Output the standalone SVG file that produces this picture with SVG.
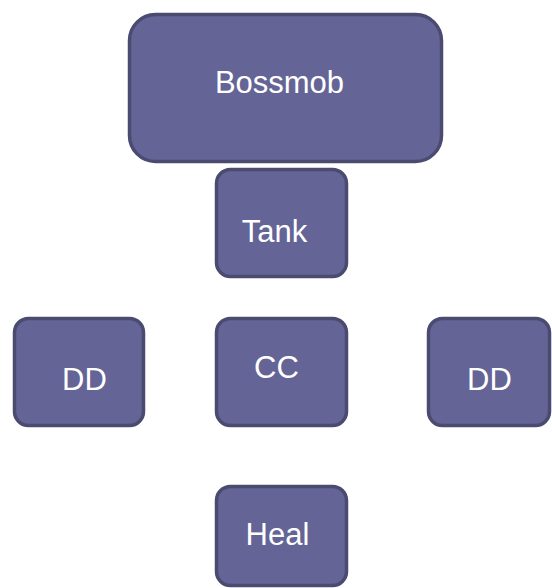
<svg xmlns="http://www.w3.org/2000/svg" width="552" height="588" viewBox="0 0 552 588">
<style>
.box{fill:#646496;stroke:#4b4b72;stroke-width:3.5}
.lbl{font-family:"Liberation Sans",Arial,sans-serif;font-size:31px;fill:#ffffff;text-anchor:middle}
</style>
<rect width="552" height="588" fill="#ffffff"/>
<g id="connectors"></g>
<g id="bossmob"><rect class="box" x="129.5" y="14.5" width="312" height="147" rx="26"/><text class="lbl" x="279.5" y="93">Bossmob</text></g>
<g id="tank"><rect class="box" x="216.5" y="169.5" width="130" height="107" rx="14"/><text class="lbl" x="274.5" y="242">Tank</text></g>
<g id="dd-left"><rect class="box" x="14.5" y="318.5" width="129" height="107" rx="14"/><text class="lbl" x="84.5" y="390">DD</text></g>
<g id="cc"><rect class="box" x="216.5" y="318.5" width="130" height="107" rx="14"/><text class="lbl" x="276.5" y="378">CC</text></g>
<g id="dd-right"><rect class="box" x="428.5" y="318.5" width="121" height="107" rx="14"/><text class="lbl" x="489.5" y="390">DD</text></g>
<g id="heal"><rect class="box" x="216.5" y="486.5" width="130" height="99" rx="14"/><text class="lbl" x="277.5" y="545">Heal</text></g>
</svg>
